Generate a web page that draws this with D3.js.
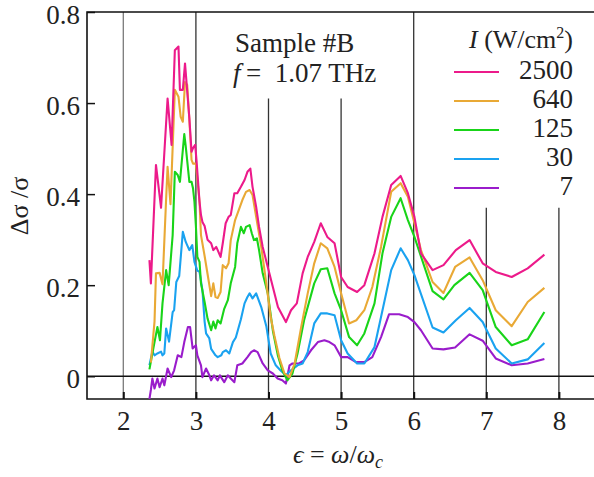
<!DOCTYPE html>
<html lang="en">
<head>
  <meta charset="UTF-8">
  <title>Photoconductivity vs epsilon</title>
  <script src="https://d3js.org/d3.v7.min.js"></script>
  <style>
    body { margin: 0; padding: 0; background: #fff; }
    svg { display: block; }
    svg text { font-family: "Liberation Serif", Tinos, "DejaVu Serif", serif !important; }
  </style>
</head>
<body>
  <div id="chart"></div>

  <script>
    // measured curves, [epsilon, delta sigma / sigma]
    const i2500 = [[2.36,0.255],[2.38,0.204],[2.45,0.464],[2.52,0.37],[2.61,0.610],[2.665,0.508],[2.71,0.716],[2.76,0.724],[2.78,0.629],[2.82,0.629],[2.85,0.687],[2.91,0.567],[2.94,0.493],[2.96,0.501],[2.99,0.508],[3.01,0.471],[3.05,0.383],[3.07,0.354],[3.09,0.339],[3.12,0.330],[3.16,0.300],[3.21,0.292],[3.24,0.277],[3.28,0.284],[3.30,0.277],[3.34,0.262],[3.37,0.292],[3.41,0.336],[3.45,0.350],[3.48,0.354],[3.53,0.402],[3.57,0.402],[3.62,0.416],[3.67,0.431],[3.71,0.449],[3.75,0.456],[3.78,0.416],[3.83,0.372],[3.87,0.328],[3.92,0.284],[3.99,0.240],[4.06,0.196],[4.13,0.152],[4.24,0.119],[4.31,0.145],[4.39,0.160],[4.47,0.226],[4.54,0.262],[4.63,0.295],[4.72,0.336],[4.81,0.306],[4.91,0.292],[5.00,0.218],[5.09,0.196],[5.22,0.185],[5.32,0.200],[5.46,0.270],[5.57,0.350],[5.69,0.420],[5.82,0.440],[5.92,0.402],[6.01,0.350],[6.10,0.270],[6.26,0.233],[6.41,0.244],[6.58,0.277],[6.77,0.299],[6.95,0.248],[7.13,0.229],[7.35,0.218],[7.57,0.237],[7.80,0.267]];
    const i640 = [[2.38,0.03],[2.43,0.12],[2.45,0.226],[2.50,0.227],[2.54,0.202],[2.59,0.39],[2.61,0.460],[2.65,0.378],[2.71,0.629],[2.76,0.614],[2.79,0.570],[2.82,0.559],[2.85,0.646],[2.88,0.640],[2.91,0.563],[2.94,0.475],[2.96,0.467],[3.00,0.467],[3.05,0.383],[3.07,0.31],[3.12,0.264],[3.16,0.225],[3.21,0.176],[3.24,0.204],[3.27,0.174],[3.30,0.172],[3.34,0.185],[3.37,0.244],[3.415,0.237],[3.45,0.248],[3.48,0.299],[3.54,0.343],[3.60,0.369],[3.64,0.387],[3.69,0.405],[3.74,0.409],[3.78,0.398],[3.83,0.350],[3.90,0.284],[3.97,0.204],[4.03,0.13],[4.08,0.09],[4.15,0.04],[4.22,0.006],[4.29,-0.002],[4.36,0.028],[4.45,0.108],[4.54,0.182],[4.63,0.248],[4.72,0.292],[4.81,0.281],[4.91,0.240],[5.00,0.182],[5.11,0.116],[5.21,0.123],[5.32,0.145],[5.43,0.196],[5.55,0.284],[5.69,0.405],[5.82,0.424],[5.92,0.394],[6.01,0.336],[6.10,0.277],[6.26,0.207],[6.41,0.183],[6.57,0.240],[6.77,0.261],[6.95,0.211],[7.13,0.145],[7.35,0.110],[7.57,0.163],[7.80,0.194]];
    const i125 = [[2.36,0.015],[2.43,0.075],[2.47,0.108],[2.505,0.079],[2.54,0.16],[2.59,0.233],[2.625,0.20],[2.68,0.31],[2.71,0.449],[2.75,0.442],[2.78,0.427],[2.84,0.532],[2.86,0.505],[2.91,0.427],[2.94,0.427],[2.96,0.413],[2.98,0.383],[3.00,0.33],[3.02,0.262],[3.05,0.251],[3.07,0.204],[3.12,0.163],[3.16,0.127],[3.21,0.101],[3.24,0.12],[3.27,0.105],[3.30,0.123],[3.34,0.116],[3.39,0.148],[3.44,0.167],[3.48,0.204],[3.54,0.240],[3.57,0.292],[3.62,0.328],[3.66,0.314],[3.69,0.328],[3.74,0.332],[3.77,0.314],[3.80,0.299],[3.84,0.303],[3.87,0.277],[3.92,0.226],[3.99,0.182],[4.06,0.10],[4.13,0.045],[4.19,0.013],[4.26,-0.009],[4.33,0.006],[4.40,0.050],[4.49,0.123],[4.63,0.204],[4.72,0.235],[4.81,0.237],[4.91,0.182],[5.00,0.145],[5.11,0.086],[5.22,0.068],[5.32,0.094],[5.46,0.160],[5.57,0.270],[5.69,0.350],[5.82,0.391],[5.92,0.343],[6.01,0.306],[6.26,0.187],[6.41,0.169],[6.56,0.200],[6.77,0.227],[6.95,0.189],[7.13,0.108],[7.35,0.068],[7.57,0.081],[7.80,0.141]];
    const i30 = [[2.36,0.024],[2.40,0.054],[2.43,0.046],[2.47,0.050],[2.52,0.054],[2.54,0.046],[2.565,0.050],[2.59,0.105],[2.63,0.076],[2.68,0.141],[2.70,0.145],[2.73,0.207],[2.77,0.22],[2.82,0.317],[2.86,0.295],[2.91,0.277],[2.95,0.288],[2.98,0.251],[3.02,0.232],[3.05,0.229],[3.09,0.189],[3.12,0.12],[3.14,0.094],[3.185,0.083],[3.21,0.06],[3.27,0.046],[3.30,0.042],[3.35,0.046],[3.37,0.053],[3.415,0.057],[3.46,0.050],[3.51,0.075],[3.55,0.085],[3.62,0.125],[3.67,0.16],[3.71,0.174],[3.74,0.182],[3.78,0.171],[3.83,0.182],[3.90,0.152],[3.97,0.11],[4.03,0.05],[4.10,0.024],[4.17,0.012],[4.24,0.002],[4.31,0.013],[4.40,0.024],[4.47,0.028],[4.54,0.053],[4.63,0.116],[4.72,0.138],[4.81,0.138],[4.91,0.134],[5.00,0.079],[5.09,0.050],[5.22,0.028],[5.32,0.028],[5.46,0.064],[5.55,0.130],[5.69,0.233],[5.82,0.281],[5.92,0.255],[6.01,0.222],[6.26,0.107],[6.41,0.096],[6.58,0.123],[6.77,0.150],[6.95,0.119],[7.13,0.061],[7.35,0.028],[7.57,0.037],[7.80,0.073]];
    const i7 = [[2.36,-0.05],[2.38,-0.03],[2.40,-0.005],[2.43,-0.027],[2.47,-0.005],[2.50,-0.024],[2.54,-0.005],[2.565,-0.02],[2.61,0.017],[2.66,-0.002],[2.70,0.013],[2.75,0.046],[2.80,0.042],[2.84,0.075],[2.89,0.108],[2.92,0.108],[2.955,0.061],[3.00,0.068],[3.02,0.046],[3.07,0.024],[3.09,-0.002],[3.14,0.017],[3.185,0.002],[3.21,-0.009],[3.25,0.002],[3.30,-0.009],[3.33,0.002],[3.39,-0.013],[3.44,0.002],[3.48,-0.005],[3.53,-0.013],[3.57,0.024],[3.64,0.028],[3.71,0.042],[3.76,0.053],[3.80,0.057],[3.85,0.053],[3.92,0.028],[3.99,0.013],[4.06,0.006],[4.125,-0.005],[4.19,-0.009],[4.24,-0.016],[4.29,0.024],[4.33,0.028],[4.42,0.028],[4.49,0.035],[4.585,0.057],[4.68,0.075],[4.77,0.079],[4.84,0.075],[4.91,0.068],[5.00,0.042],[5.09,0.042],[5.205,0.031],[5.32,0.031],[5.43,0.042],[5.55,0.086],[5.66,0.136],[5.80,0.136],[5.92,0.130],[6.01,0.119],[6.10,0.101],[6.26,0.061],[6.41,0.059],[6.57,0.063],[6.77,0.092],[6.95,0.078],[7.13,0.039],[7.35,0.024],[7.57,0.028],[7.80,0.038]];

    const intensities = ["2500", "640", "125", "30", "7"];
    const seriesData = [i2500, i640, i125, i30, i7];
    const colors = ["#ec1a8a", "#e9a935", "#19d419", "#1aa2f0", "#9a1ccb"];

    const xTicks = [2, 3, 4, 5, 6, 7, 8];
    const yTicks = [0, 0.2, 0.4, 0.6, 0.8];
    // upper end of the vertical guide at each integer epsilon
    const guideTops = [0.8, 0.8, 0.61, 0.61, 0.8, 0.37, 0.37];

    const width = 594, height = 477;
    const margin = {left: 87, top: 12, bottom: 78};

    const x = d3.scaleLinear().domain([1.5, 8.5]).range([margin.left, 595.2]);
    const y = d3.scaleLinear().domain([-0.05, 0.8]).range([height - margin.bottom, margin.top]);

    const svg = d3.select("#chart").append("svg")
      .attr("width", width)
      .attr("height", height);

    svg.append("defs").append("clipPath").attr("id", "plot")
      .append("rect")
      .attr("x", x.range()[0]).attr("y", y.range()[1])
      .attr("width", x.range()[1] - x.range()[0])
      .attr("height", y.range()[0] - y.range()[1]);

    // vertical guides
    svg.append("g").selectAll("line")
      .data(xTicks)
      .join("line")
      .attr("x1", d => x(d)).attr("x2", d => x(d))
      .attr("y1", (d, i) => y(guideTops[i]))
      .attr("y2", y(-0.05))
      .attr("stroke", d => d === 2 ? "#7a7a7a" : "#333")
      .attr("stroke-width", 1.3);

    // zero line
    svg.append("line")
      .attr("x1", x.range()[0]).attr("x2", width)
      .attr("y1", y(0)).attr("y2", y(0))
      .attr("stroke", "#111").attr("stroke-width", 1.6);

    // frame (left, top, bottom)
    svg.append("path")
      .attr("d", `M${width},${y(0.8)}H${x.range()[0]}V${y(-0.05)}H${width}`)
      .attr("fill", "none")
      .attr("stroke", "#111")
      .attr("stroke-width", 1.6);

    const yAxis = svg.append("g")
      .attr("transform", `translate(${x.range()[0]},0)`)
      .call(d3.axisLeft(y).tickValues(yTicks).tickSize(-8).tickPadding(7)
        .tickFormat(d => d === 0 ? "0" : d3.format(".1f")(d)));
    yAxis.select(".domain").remove();
    yAxis.selectAll(".tick line").attr("stroke", "#111").attr("stroke-width", 1.5);
    yAxis.selectAll(".tick text").attr("dy", "0.42em");

    const xAxis = svg.append("g")
      .attr("transform", `translate(0,${y(-0.05)})`)
      .call(d3.axisBottom(x).tickValues(xTicks).tickSize(-7).tickPadding(12)
        .tickFormat(d3.format("d")));
    xAxis.select(".domain").remove();
    xAxis.selectAll(".tick line").attr("stroke", "#111").attr("stroke-width", 2);

    [xAxis, yAxis].forEach(g => g
      .attr("font-size", 27)
      .selectAll(".tick text").attr("fill", "#222"));

    const line = d3.line()
      .x(d => x(d[0]))
      .y(d => y(d[1]));

    const curves = svg.append("g").attr("clip-path", "url(#plot)");
    seriesData.slice().reverse().forEach((s, k) => {
      const i = seriesData.length - 1 - k;
      curves.append("path")
        .datum(s)
        .attr("d", line)
        .attr("fill", "none")
        .attr("stroke", colors[i])
        .attr("stroke-width", 2.1)
        .attr("stroke-linejoin", "round");
    });

    // annotation
    const note = svg.append("text")
      .attr("font-size", 27)
      .attr("fill", "#222");
    note.append("tspan").attr("x", 235).attr("y", 52).text("Sample #B");
    const l2 = note.append("tspan").attr("x", 233).attr("y", 82);
    l2.append("tspan").attr("font-style", "italic").text("f");
    l2.append("tspan").text("\u2009=\u20021.07 THz");

    // legend
    const legendRight = 573;
    const head = svg.append("text")
      .attr("x", legendRight).attr("y", 48)
      .attr("text-anchor", "end")
      .attr("font-size", 26)
      .attr("fill", "#222");
    head.append("tspan").attr("font-style", "italic").text("I");
    head.append("tspan").text(" (W/cm");
    head.append("tspan").attr("font-size", 16).attr("dy", -10).text("2");
    head.append("tspan").attr("dy", 10).text(")");

    const rows = svg.append("g").selectAll("g")
      .data(intensities)
      .join("g")
      .attr("transform", (d, i) => `translate(0,${79 + i * 29})`);
    rows.append("line")
      .attr("x1", 454).attr("x2", 499)
      .attr("y1", -7).attr("y2", -7)
      .attr("stroke", (d, i) => colors[i])
      .attr("stroke-width", 2.1);
    rows.append("text")
      .attr("x", legendRight)
      .attr("text-anchor", "end")
      .attr("font-size", 27)
      .attr("fill", "#222")
      .text(d => d);

    // axis titles
    svg.append("text")
      .attr("transform", "translate(28,206) rotate(-90)")
      .attr("text-anchor", "middle")
      .attr("font-size", 26)
      .attr("fill", "#222")
      .text("\u0394\u03c3 /\u03c3");

    const xt = svg.append("text")
      .attr("x", 338).attr("y", 463)
      .attr("text-anchor", "middle")
      .attr("font-size", 26)
      .attr("fill", "#222");
    xt.append("tspan").attr("font-style", "italic").text("\u03f5");
    xt.append("tspan").text(" = ");
    xt.append("tspan").attr("font-style", "italic").text("\u03c9");
    xt.append("tspan").text("/");
    xt.append("tspan").attr("font-style", "italic").text("\u03c9");
    xt.append("tspan").attr("font-style", "italic").attr("font-size", 18).attr("dy", 5).text("c");
  </script>
</body>
</html>
